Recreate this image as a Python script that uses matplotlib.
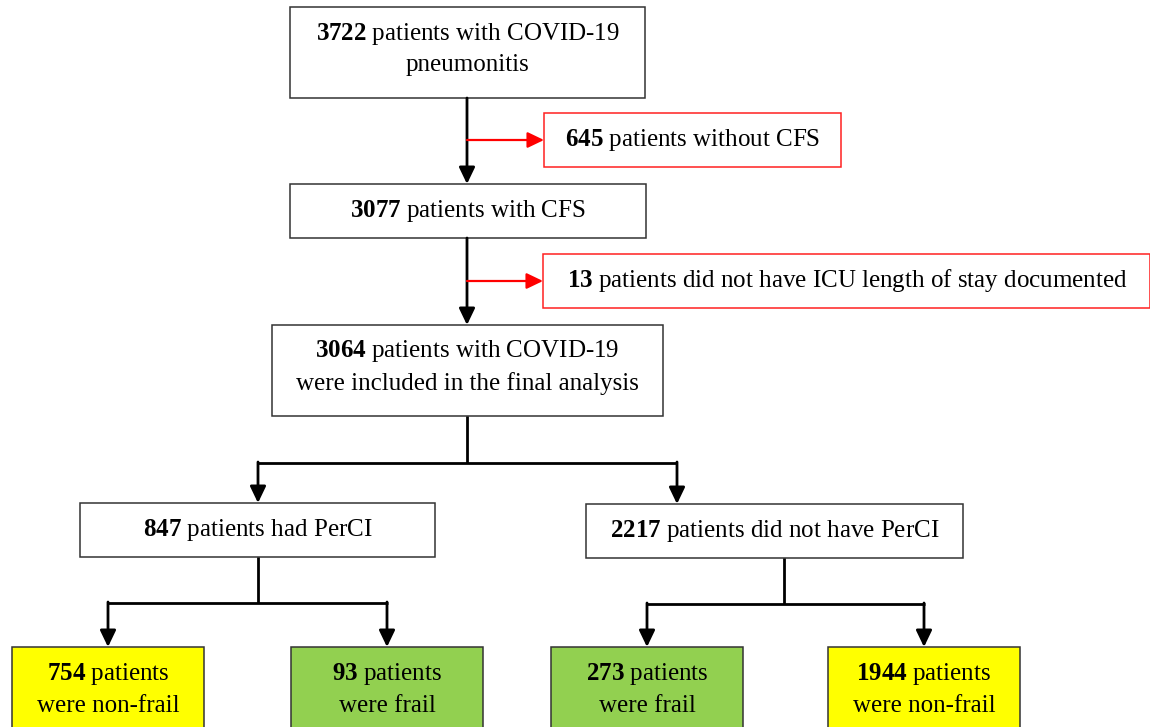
import matplotlib
matplotlib.use("Agg")
import matplotlib.pyplot as plt
from matplotlib.patches import Rectangle

plt.rcParams.update({
    "font.family": "Liberation Serif",
    "mathtext.fontset": "custom",
    "mathtext.rm": "Liberation Serif",
    "mathtext.bf": "Liberation Serif:bold",
})

# --- flow numbers and box texts ---
counts = [3722, 645, 3077, 13, 3064, 847, 2217, 754, 93, 273, 1944]
texts = [
    "patients with COVID-19\npneumonitis",
    "patients without CFS",
    "patients with CFS",
    "patients did not have ICU length of stay documented",
    "patients with COVID-19\nwere included in the final analysis",
    "patients had PerCI",
    "patients did not have PerCI",
    "patients\nwere non-frail",
    "patients\nwere frail",
    "patients\nwere frail",
    "patients\nwere non-frail",
]
kinds = ["main", "excl", "main", "excl", "main", "main", "main",
         "nonfrail", "frail", "frail", "nonfrail"]

# box geometry in pixels: x0, y0, x1, y1 (y grows downward)
boxes = [
    (290, 7, 645, 98), (544, 113, 841, 167), (290, 184, 646, 238),
    (543, 254, 1150, 308), (272, 325, 663, 416), (80, 503, 435, 557),
    (586, 504, 963, 558), (12, 647, 204, 740), (291, 647, 483, 740),
    (551, 647, 743, 740), (828, 647, 1020, 740),
]
style = {
    "main": ("white", "#333333"),
    "excl": ("white", "#ff2020"),
    "nonfrail": ("#ffff00", "#333333"),
    "frail": ("#92d050", "#333333"),
}

fig = plt.figure(figsize=(11.5, 7.27), dpi=100)
ax = fig.add_axes([0, 0, 1, 1])
ax.set_xlim(0, 1150)
ax.set_ylim(727, 0)
ax.axis("off")

for (x0, y0, x1, y1), n, t, k in zip(boxes, counts, texts, kinds):
    fc, ec = style[k]
    ax.add_patch(Rectangle((x0, y0), x1 - x0, y1 - y0, facecolor=fc,
                           edgecolor=ec, lw=1.1, zorder=1))
    lines = t.split("\n")
    lines[0] = r"$\mathbf{%d}$ " % n + lines[0]
    if k in ("nonfrail", "frail"):
        yc = y0 + 42
    elif len(lines) > 1:
        yc = (y0 + y1) / 2 - 4
    else:
        yc = (y0 + y1) / 2
    xc = (x0 + x1) / 2 if x1 < 1150 else 847
    ax.text(xc, yc, "\n".join(lines), ha="center", va="center",
            fontsize=18, linespacing=1.43, zorder=2)


def line(xs, ys, color="black", lw=2.0):
    ax.plot(xs, ys, color=color, lw=lw, solid_capstyle="butt", zorder=3)


def arrow(x0, y0, x1, y1, color="black", lw=2.0):
    ax.annotate("", xy=(x1, y1), xytext=(x0, y0),
                arrowprops=dict(arrowstyle="-|>,head_length=0.5,head_width=0.24",
                                mutation_scale=20, color=color, lw=lw,
                                shrinkA=0, shrinkB=0), zorder=3)


# trunk
arrow(467, 98, 467, 184)
arrow(467, 238, 467, 325)
arrow(467, 140, 544, 140, color="red", lw=1.6)
arrow(467, 281, 543, 281, color="red", lw=1.6)

# split into PerCI groups
line([467, 467], [416, 463])
line([257, 677], [463, 463])
arrow(258, 462, 258, 503)
arrow(677, 462, 677, 504)

# frailty split under each group
line([258, 258], [557, 603])
line([107, 388], [603, 603])
arrow(108, 602, 108, 647)
arrow(387, 602, 387, 647)

line([784, 784], [558, 604])
line([646, 925], [604, 604])
arrow(647, 603, 647, 647)
arrow(924, 603, 924, 647)

fig.savefig("out.png", dpi=100)
